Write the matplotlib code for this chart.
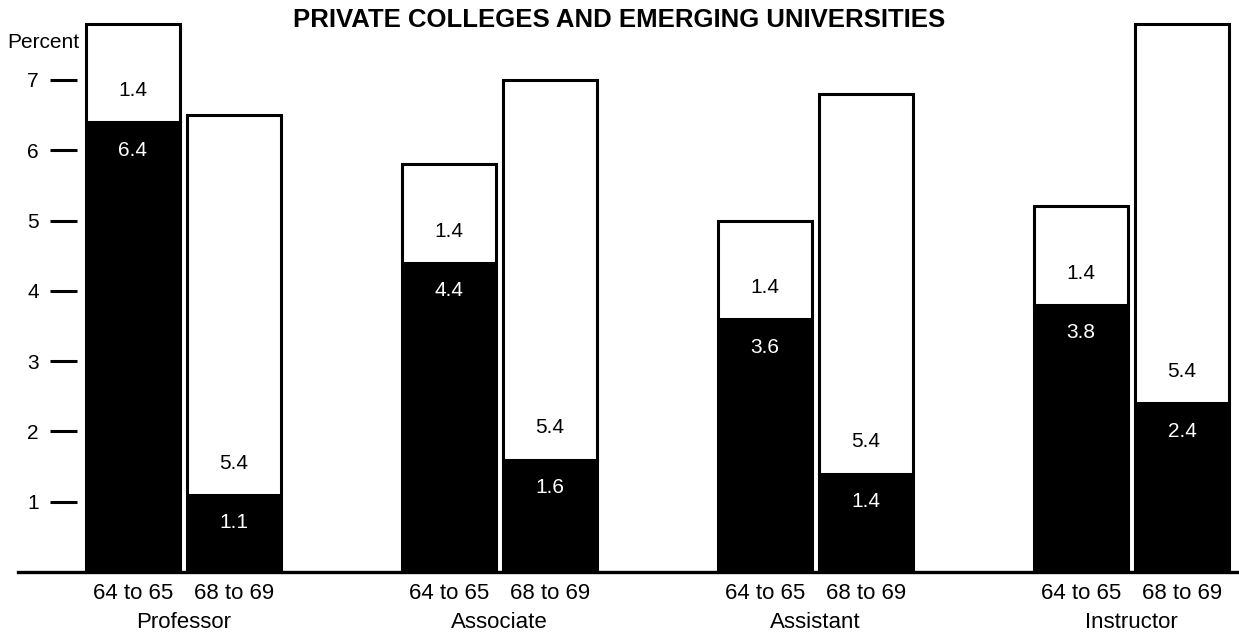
import matplotlib
matplotlib.use("Agg")
import matplotlib.pyplot as plt
import numpy as np

plt.rcParams['font.family'] = ['Liberation Sans', 'DejaVu Sans']

categories = ["Professor", "Associate", "Assistant", "Instructor"]
periods = ["64 to 65", "68 to 69"]
yticks = [1, 2, 3, 4, 5, 6, 7]

# black (lower) and white (upper) parts of each stacked bar
black_6465 = [6.4, 4.4, 3.6, 3.8]
white_6465 = [1.4, 1.4, 1.4, 1.4]
black_6869 = [1.1, 1.6, 1.4, 2.4]
white_6869 = [5.4, 5.4, 5.4, 5.4]

W, H = 1239, 637
fig = plt.figure(figsize=(W / 100, H / 100), dpi=100)
ax = fig.add_axes([77 / W, (H - 572) / H, (W - 77) / W, 572 / H])

x = np.arange(len(categories))
width = 0.297
offset = 0.16
lw = 2.2

for xs, blk, wht in [(x - offset, black_6465, white_6465),
                     (x + offset, black_6869, white_6869)]:
    ax.bar(xs, blk, width, color="black", edgecolor="black", linewidth=lw, zorder=2)
    ax.bar(xs, wht, width, bottom=blk, color="white", edgecolor="black",
           linewidth=lw, zorder=3)
    for xi, b, w in zip(xs, blk, wht):
        ax.text(xi, b - 0.4, f"{b:.1f}", color="white", ha="center", va="center",
                fontsize=15, zorder=4)
        ax.text(xi, b + 0.45, f"{w:.1f}", color="black", ha="center", va="center",
                fontsize=15, zorder=4)

# period labels under each bar, category labels under each group
for i, cat in enumerate(categories):
    ax.text(x[i] - offset, -0.30, periods[0], ha="center", va="center", fontsize=16)
    ax.text(x[i] + offset, -0.30, periods[1], ha="center", va="center", fontsize=16)
    ax.text(x[i], -0.725, cat, ha="center", va="center", fontsize=16)

ax.set_xlim((77 - 183.5) / 316, (W - 183.5) / 316)
ax.set_ylim(0, 572 / 70.3)
ax.set_xticks([])
ax.set_yticks(yticks)
ax.set_yticklabels([str(t) for t in yticks])
ax.tick_params(axis="y", direction="out", length=19.4, width=2.2, pad=8, labelsize=15)
for s in ax.spines.values():
    s.set_visible(False)
ax.axhline(0, xmin=-(77 - 18) / (W - 77), xmax=1, color="black", linewidth=2.4,
           clip_on=False, zorder=5)

fig.text(7 / W, 1 - 43 / H, "Percent", ha="left", va="center", fontsize=15)
fig.text(619 / W, 1 - 20 / H, "PRIVATE COLLEGES AND EMERGING UNIVERSITIES",
         ha="center", va="center", fontsize=18.5, fontweight="bold")

fig.savefig("out.png", dpi=100)
